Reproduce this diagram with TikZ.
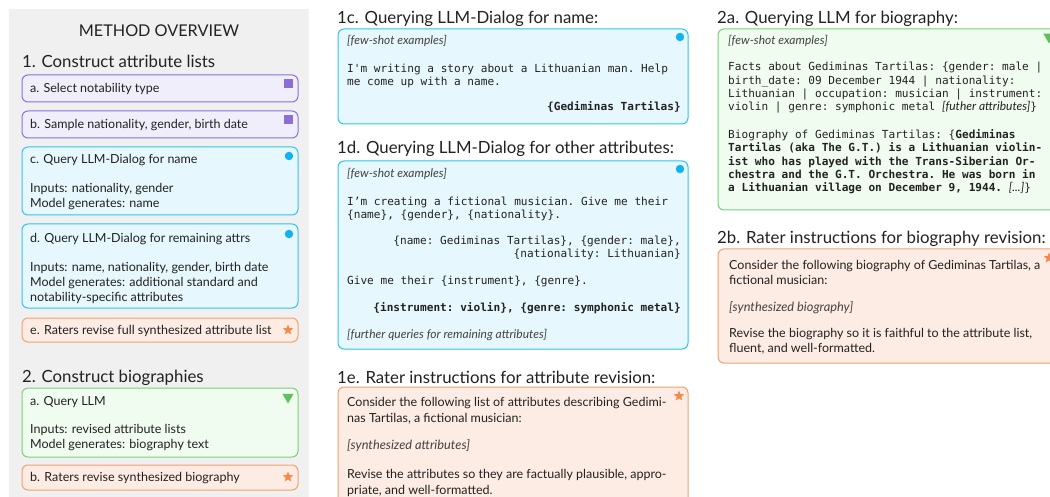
\documentclass[tikz,border=0pt]{standalone}
\usepackage{fontspec}
\setmainfont{Lato}
\setsansfont{Lato}
\setmonofont{DejaVu Sans Mono}
\usetikzlibrary{shapes.geometric}
\definecolor{panel}{HTML}{F0F0F0}
\definecolor{purpB}{HTML}{8C70DC}
\definecolor{purpF}{HTML}{F1EEFB}
\definecolor{purpM}{HTML}{8B6FD6}
\definecolor{blueB}{HTML}{2EC4EE}
\definecolor{blueF}{HTML}{E6F7FD}
\definecolor{blueM}{HTML}{12B2EC}
\definecolor{orB}{HTML}{F6A06E}
\definecolor{orF}{HTML}{FDECE3}
\definecolor{orM}{HTML}{F5894A}
\definecolor{grB}{HTML}{76D276}
\definecolor{grF}{HTML}{F0FCEF}
\definecolor{grM}{HTML}{5DC05D}
\definecolor{ink}{HTML}{222222}
\newcommand{\itsmall}{\rmfamily\itshape\fontsize{12}{13.3}\selectfont}
\tikzset{
  pbox/.style={draw=purpB, fill=purpF, rounded corners=6, line width=1},
  bbox/.style={draw=blueB, fill=blueF, rounded corners=6, line width=1},
  obox/.style={draw=orB, fill=orF, rounded corners=6, line width=1},
  gbox/.style={draw=grB, fill=grF, rounded corners=6, line width=1},
  txt/.style={inner sep=0, anchor=base west, align=left, text=ink, font=\fontsize{12.5}{15.5}\selectfont},
  txtb/.style={txt, font=\fontsize{12.5}{15}\selectfont},
  head/.style={inner sep=0, anchor=base west, text=ink, font=\fontsize{16.8}{20}\selectfont},
  monot/.style={inner sep=0, anchor=base west, align=left, text=ink, font=\fontsize{11.1}{13.3}\selectfont\ttfamily},
  monob/.style={monot, font=\fontsize{11.1}{13.3}\selectfont\ttfamily\bfseries},
  smallit/.style={inner sep=0, anchor=base west, text=ink!85, font=\fontsize{12}{15}\selectfont\itshape},
  bodyit/.style={inner sep=0, anchor=base west, text=ink!85, font=\fontsize{12.8}{15}\selectfont\itshape},
  sqmark/.style={fill=purpM, minimum size=9, inner sep=0},
  dotmark/.style={circle, fill=blueM, minimum size=8.5, inner sep=0},
  starmark/.style={star, star points=5, star point ratio=2.3, fill=orM, minimum size=11, inner sep=0},
  trimark/.style={regular polygon, regular polygon sides=3, shape border rotate=180, fill=grM, minimum size=13, inner sep=0},
}
\begin{document}
\begin{tikzpicture}[x=1pt,y=-1pt]
\useasboundingbox (0,0) rectangle (1050,497);
\clip (0,0) rectangle (1050,497);
\fill[white] (0,0) rectangle (1050,497);
% ---------- left panel ----------
\fill[panel] (9,9) rectangle (309,505);
\node[inner sep=0, anchor=base, text=ink, font=\fontsize{16.2}{20}\selectfont] (mo) at (159,37) {METHOD OVERVIEW};
\node[head] (h1) at (22,68) {1. Construct attribute lists};
\draw[pbox] (22,75) rectangle (298,102);
\node[txt] (la) at (30,92.4) {a. Select notability type};
\node[sqmark] (ma) at (288.5,83.5) {};
\draw[pbox] (22,111) rectangle (298,138);
\node[txt] (lb) at (30,128.4) {b. Sample nationality, gender, birth date};
\node[sqmark] (mb) at (288.5,120) {};
\draw[bbox] (22,147) rectangle (298,215);
\node[txt] (lc1) at (30,163.4) {c. Query LLM-Dialog for name};
\node[txtb] (lc2) at (30,207.4) {Inputs: nationality, gender\\Model generates: name};
\node[dotmark] (mc) at (289,156) {};
\draw[bbox] (22,224) rectangle (298,308);
\node[txt] (ld1) at (30,242.4) {d. Query LLM-Dialog for remaining attrs};
\node[txtb] (ld2) at (30,301.4) {Inputs: name, nationality, gender, birth date\\Model generates: additional standard and\\notability-specific attributes};
\node[dotmark] (md) at (289,234) {};
\draw[obox] (22,318) rectangle (298,342);
\node[txt] (le) at (30,334.4) {e. Raters revise full synthesized attribute list};
\node[starmark] (me) at (288,330) {};
\node[head] (h2) at (22,382) {2. Construct biographies};
\draw[gbox] (22,388) rectangle (298,457);
\node[txt] (l2a1) at (30,405.4) {a. Query LLM};
\node[txtb] (l2a2) at (30,448.4) {Inputs: revised attribute lists\\Model generates: biography text};
\node[trimark] (m2a) at (288,397) {};
\draw[obox] (22,465) rectangle (298,490);
\node[txt] (l2b) at (30,481.4) {b. Raters revise synthesized biography};
\node[starmark] (m2b) at (288,477) {};
% ---------- middle column ----------
\node[head] (h1c) at (337,24) {1c. Querying LLM-Dialog for name:};
\draw[bbox] (338,29) rectangle (688,124);
\node[smallit] (c1) at (347,45) {[few-shot examples]};
\node[monot] (c2) at (347,86) {I'm writing a story about a Lithuanian man. Help\\me come up with a name.};
\node[monob, anchor=base east] (c3) at (681,110.8) {\{Gediminas Tartilas\}};
\node[dotmark] (mc1) at (680,37) {};
\node[head] (h1d) at (337,154) {1d. Querying LLM-Dialog for other attributes:};
\draw[bbox] (338,161) rectangle (688,349);
\node[smallit] (d1) at (347,178) {[few-shot examples]};
\node[monot] (d2) at (347,219) {I’m creating a fictional musician. Give me their\\\{name\}, \{gender\}, \{nationality\}.};
\node[monot, anchor=base east, align=right] (d3) at (681,258) {\{name: Gediminas Tartilas\}, \{gender: male\},\\\{nationality: Lithuanian\}};
\node[monot] (d4) at (347,284.8) {Give me their \{instrument\}, \{genre\}.};
\node[monob, anchor=base east] (d5) at (681,311.8) {\{instrument: violin\}, \{genre: symphonic metal\}};
\node[smallit] (d6) at (347,338) {[further queries for remaining attributes]};
\node[dotmark] (md1) at (680,169) {};
\node[head] (h1e) at (337,383) {1e. Rater instructions for attribute revision:};
\draw[obox] (338,387) rectangle (688,520);
\node[txt] (e1) at (347,422.4) {Consider the following list of attributes describing Gedimi-\\nas Tartilas, a fictional musician:};
\node[bodyit] (e2) at (347,449.2) {[synthesized attributes]};
\node[txt] (e3) at (347,494.4) {Revise the attributes so they are factually plausible, appro-\\priate, and well-formatted.};
\node[starmark] (me1) at (679,396) {};
% ---------- right column ----------
\node[head] (h2a) at (717,24) {2a. Querying LLM for biography:};
\draw[gbox] (718,29) rectangle (1070,210);
\node[smallit] (a1) at (728,45) {[few-shot examples]};
\node[monot] (a2) at (728,110.8) {Facts about Gediminas Tartilas: \{gender: male |\\birth\_date: 09 December 1944 | nationality:\\Lithuanian | occupation: musician | instrument:\\violin | genre: symphonic metal {\itsmall [futher attributes]}\}};
\node[monot] (a3) at (728,191.8) {Biography of Gediminas Tartilas: \{\textbf{Gediminas}\\\textbf{Tartilas (aka The G.T.) is a Lithuanian violin-}\\\textbf{ist who has played with the Trans-Siberian Or-}\\\textbf{chestra and the G.T. Orchestra. He was born in}\\\textbf{a Lithuanian village on December 9, 1944.} {\itsmall [...]}\}};
\node[trimark] (m2a1) at (1049,37) {};
\node[head] (h2b) at (717,244) {2b. Rater instructions for biography revision:};
\draw[obox] (718,249) rectangle (1070,363);
\node[txtb] (b1) at (729,284.4) {Consider the following biography of Gediminas Tartilas, a\\fictional musician:};
\node[bodyit] (b2) at (729,311.2) {[synthesized biography]};
\node[txtb] (b3) at (729,352.4) {Revise the biography so it is faithful to the attribute list,\\fluent, and well-formatted.};
\node[starmark] (m2b1) at (1049,258) {};
\end{tikzpicture}
\end{document}
